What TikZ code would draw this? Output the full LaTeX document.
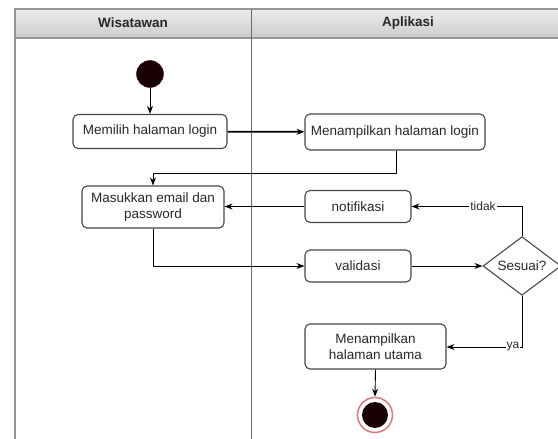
\documentclass[tikz,border=0pt]{standalone}
\usepackage{fontspec}
\setmainfont{Liberation Sans}
\usetikzlibrary{arrows.meta,shapes.geometric,calc}
\definecolor{lanegray}{RGB}{150,150,150}
\definecolor{boxgray}{RGB}{70,70,70}
\definecolor{txt}{RGB}{40,40,40}
\definecolor{startfill}{RGB}{25,0,5}
\definecolor{endring}{RGB}{215,130,130}
\tikzset{
  actbox/.style={draw=boxgray, line width=1.1pt, rounded corners=5pt, fill=white,
    text=txt, align=center, inner sep=2pt, font=\fontsize{13.5}{16}\selectfont},
  decis/.style={draw=boxgray, line width=1.1pt, diamond, fill=white, text=txt,
    inner sep=0pt, font=\fontsize{13.5}{16}\selectfont},
  flow/.style={draw=black, line width=0.9pt, -{Stealth[length=8pt,width=6pt]}},
  guard/.style={fill=white, text=txt, inner sep=1pt, font=\fontsize{12}{14}\selectfont},
  lanetitle/.style={text=txt, font=\bfseries\fontsize{13.5}{16}\selectfont},
}
\begin{document}
\begin{tikzpicture}[x=1pt,y=-1pt]
\useasboundingbox (0,0) rectangle (558,439);
\clip (0,0) rectangle (558,439);
% swimlane frame
\shade[top color=gray!15, bottom color=gray!40] (15,9) rectangle (570,38);
\draw[lanegray, line width=1.5pt] (570,9) -- (15,9) -- (15,450);
\draw[lanegray, line width=1.2pt] (15,38) -- (570,38);
\draw[boxgray!80, line width=1pt] (251,9) -- (251,450);
\node[lanetitle] (lane1) at (133,23) {Wisatawan};
\node[lanetitle] (lane2) at (408,23) {Aplikasi};
% nodes
\node[circle, fill=startfill, draw=startfill!80!red, minimum size=27pt, inner sep=0pt] (start) at (150,74) {};
\node[actbox, minimum width=154pt, minimum height=34pt] (b1) at (150,131.5) {Memilih halaman login};
\node[actbox, minimum width=180pt, minimum height=36pt] (b2) at (395,132) {Menampilkan halaman login};
\node[actbox, minimum width=142pt, minimum height=42pt] (b3) at (153,207) {Masukkan email dan\\password};
\node[actbox, minimum width=106pt, minimum height=32pt] (notif) at (358,206.5) {notifikasi};
\node[actbox, minimum width=106pt, minimum height=32pt] (valid) at (358,266) {validasi};
\node[decis, minimum width=78pt, minimum height=50pt] (dia) at (522,266) {Sesuai?};
\node[actbox, minimum width=141pt, minimum height=45pt] (b4) at (375.5,346.5) {Menampilkan\\halaman utama};
\node[circle, draw=endring, line width=1.6pt, fill=white, minimum size=35pt, inner sep=0pt] (endo) at (375,415) {};
\node[circle, fill=startfill, minimum size=26pt, inner sep=0pt] (endi) at (375,415) {};
% helper coordinates
\coordinate (c1) at (396,173);
\coordinate (c2) at (153,173);
\coordinate (c3) at (153,266);
\coordinate (c4) at (522,206.5);
\coordinate (c5) at (522,347);
% connectors
\draw[flow] (start) -- (b1);
\draw[flow, line width=1.8pt] (b1) -- (b2);
\draw[flow] (b2.south -| c1) -- (c1) -- (c2) -- (b3.north);
\draw[flow] (notif.west) -- (notif.west -| b3.east);
\draw[flow] (dia.north) -- (c4) -- (notif.east);
\node[guard] (tidak) at (483,206.5) {tidak};
\draw[flow] (b3.south) -- (c3) -- (valid.west);
\draw[flow] (valid.east) -- (dia.west);
\draw[flow] (dia.south) -- (c5) -- (c5 -| b4.east);
\node[guard] (ya) at (513,347) {ya};
\draw[flow] (b4.south) -- (endo.north);
\end{tikzpicture}
\end{document}
